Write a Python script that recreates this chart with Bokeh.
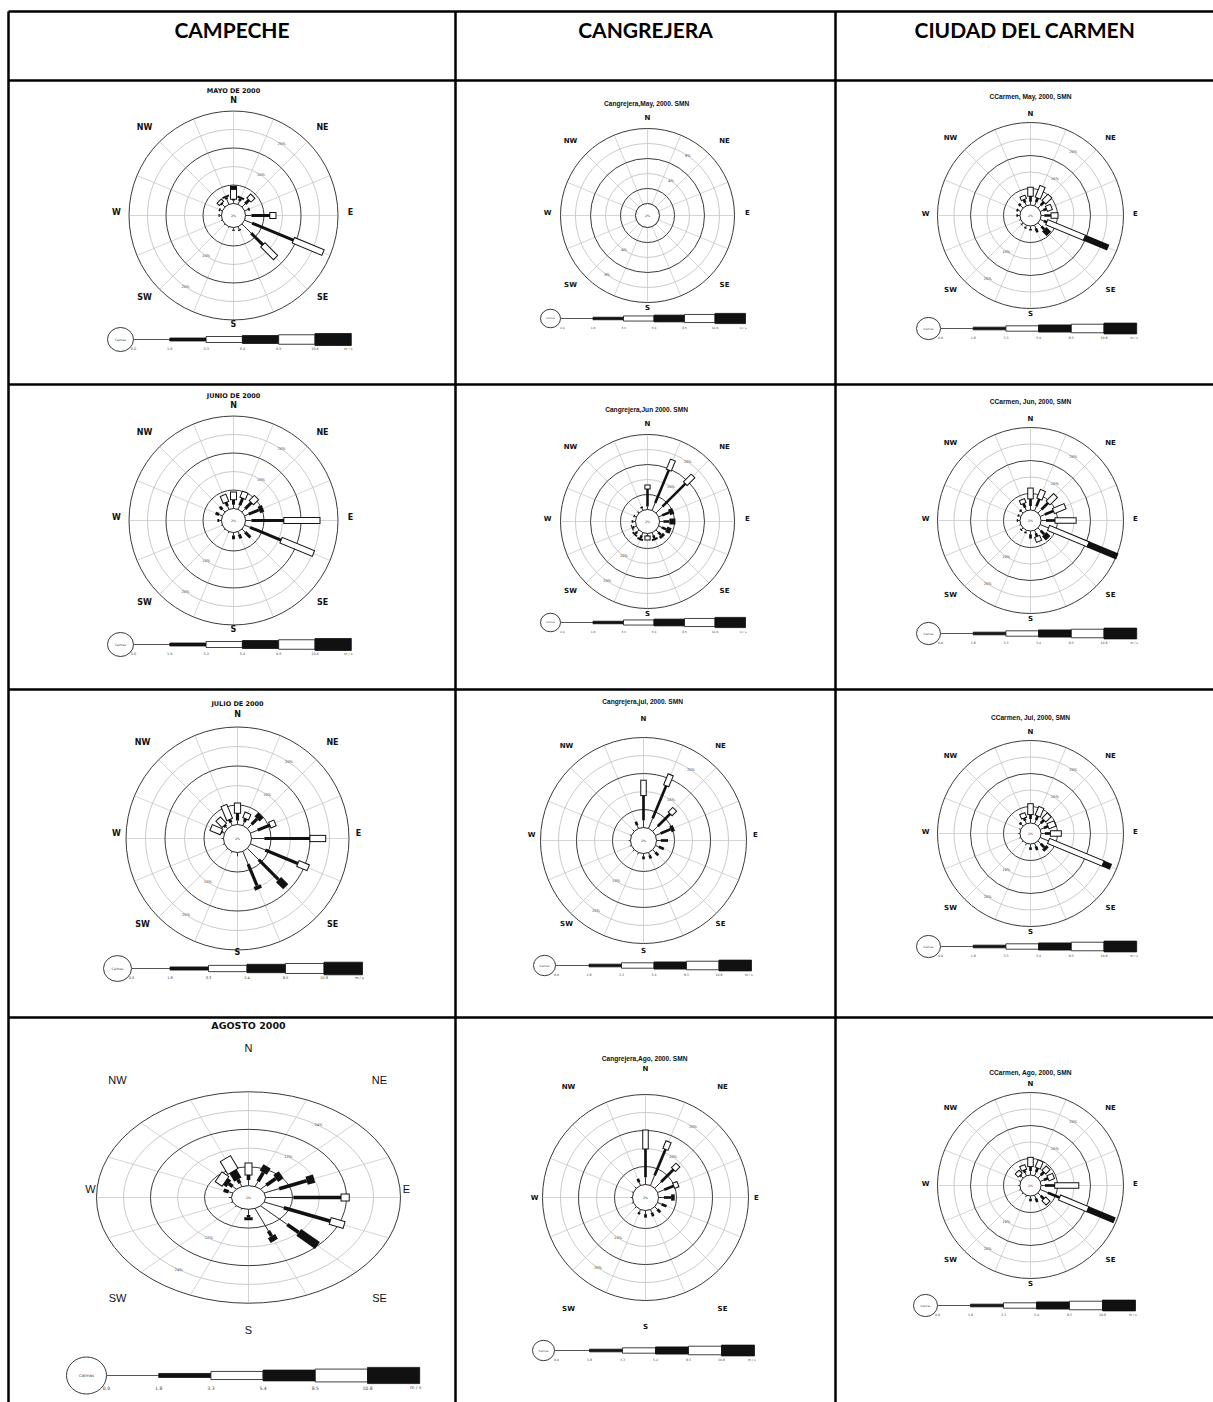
import numpy as np
from bokeh.plotting import figure
from bokeh.models import Range1d
from bokeh.embed import file_html
from bokeh.resources import INLINE
from bokeh.core.properties import value

# ---------------------------------------------------------------- data
STATIONS = ["CAMPECHE", "CANGREJERA", "CIUDAD DEL CARMEN"]
DIRECTIONS = ["N", "NNE", "NE", "ENE", "E", "ESE", "SE", "SSE",
              "S", "SSW", "SW", "WSW", "W", "WNW", "NW", "NNW"]
COMPASS = ["N", "NE", "E", "SE", "S", "SW", "W", "NW"]
SPEED_BREAKS = ["0.0", "1.8", "3.3", "5.4", "8.5", "10.8"]
SPEED_UNIT = "m / s"
CALM_LABEL = "Calmas"

TITLES = [
    "MAYO DE 2000", "Cangrejera,May, 2000.  SMN", "CCarmen, May, 2000, SMN",
    "JUNIO DE 2000", "Cangrejera,Jun 2000.  SMN", "CCarmen, Jun, 2000, SMN",
    "JULIO DE 2000", "Cangrejera,jul, 2000.  SMN", "CCarmen, Jul, 2000, SMN",
    "AGOSTO 2000", "Cangrejera,Ago, 2000.  SMN", "CCarmen, Ago, 2000, SMN",
]
# ring step (%) of each rose
RING_STEP = [5, 2, 5, 5, 5, 5, 5, 5, 5, 6, 5, 5]

# frequency (%) per direction (N, NNE, ... NNW) and speed class
# classes: 0-1.8, 1.8-3.3, 3.3-5.4, 5.4-8.5, 8.5-10.8, >10.8 m/s
CAMPECHE_MAY = [
    [0.8, 0.5, 2.4, 1.1], [1.0, 0.6, 0, 0.6], [1.2, 1.6, 1.2], [1.0, 0.5],
    [1.6, 5.1, 1.4], [2.2, 12.2, 8.4], [3.5, 4.6, 4.6], [0.8, 0.4],
    [0.6, 0.3], [0.3], [0.3], [0.4], [0.5, 0.3], [0.6, 0.4], [1.0, 0.5, 0.6], [1.5, 0.5, 0, 0.5],
]
CANGREJERA_MAY = [[0]] * 16
CCARMEN_MAY = [
    [1.0, 1.8, 2.4], [1.2, 1.5, 3.5], [1.2, 1.5, 2.3], [1.0, 1.2, 1.3],
    [1.0, 2.2, 1.8], [1.2, 1.1, 12.1, 7.9], [1.5, 1.2, 0, 2.0], [1.0, 1.3],
    [0.8, 0.6], [0.7, 0.4], [0.5, 0.3], [0.5], [0.6, 0.5], [0.8, 0.6], [1.0, 0.8], [1.0, 1.2, 0.8],
]
CAMPECHE_JUN = [
    [1.0, 1.5, 1.8], [1.2, 2.2, 1.5], [1.2, 2.5, 1.7], [1.2, 3.0, 0, 1.2],
    [1.6, 8.9, 9.5], [1.6, 9.2, 9.2], [1.2, 2.0], [0.8, 1.2],
    [0.8, 1.0], [0.4], [0.3], [0.3], [0.6, 0.5], [1.0, 1.0], [1.0, 1.0], [1.0, 1.2, 1.8],
]
CANGREJERA_JUN = [
    [1.0, 6.0, 1.0], [2.7, 12.0, 3.3], [3.0, 11.0, 3.3], [1.3, 2.5, 0, 1.5],
    [1.3, 2.0, 0, 2.0], [1.2, 1.6, 0, 1.5], [1.0, 1.3, 0, 1.0], [1.0, 1.0, 0, 0.7],
    [0.6, 0.4, 1.0], [1.0, 1.0, 0, 0.7], [0.9, 0.8, 0, 0.6], [0.8, 0.5, 0, 0.4],
    [0.7, 0.6], [0.6, 0.4], [0.5, 0.2], [0.8, 0.5],
]
CCARMEN_JUN = [
    [1.2, 2.3, 3.0], [1.5, 2.5, 2.5], [1.5, 3.0, 2.9], [1.5, 3.0, 3.5],
    [1.5, 2.9, 6.1], [2.9, 0, 12.7, 9.7], [1.2, 1.5, 0, 1.7], [1.0, 1.2, 1.3],
    [1.0, 1.3], [0.6, 0.4], [0.6, 0.4], [0.5], [0.6, 0.4], [0.6, 0.4], [0.8, 0.5], [1.0, 1.5, 1.0],
]
CAMPECHE_JUL = [
    [1.0, 2.0, 2.4], [1.0, 1.0, 1.3], [1.5, 2.0, 0, 1.4], [2.0, 3.5, 1.2],
    [3.3, 11.8, 3.8], [4.1, 9.2, 2.6], [4.1, 7.2, 0, 2.6], [3.5, 6.0, 0, 1.0],
    [1.0], [0.4], [0.4], [0.4], [0.5], [0.5, 0.5, 2.6], [0.6, 0.7, 2.0], [0.8, 1.0, 3.6],
]
CANGREJERA_JUL = [
    [2.0, 7.0, 4.0], [3.0, 10.0, 3.0], [2.0, 5.0, 1.5], [1.5, 3.0, 0, 1.0],
    [1.2, 2.0], [1.0, 1.5], [1.0, 1.2], [0.8, 1.0],
    [0.8, 0.8], [0.6], [0.6], [0.5], [0.5], [0.5], [0.6], [1.0, 1.0],
]
CCARMEN_JUL = [
    [1.2, 1.5, 3.0], [1.2, 1.5, 2.5], [1.2, 1.5, 2.0], [1.2, 1.5, 2.0],
    [1.2, 1.8, 3.0], [2.9, 0, 17.6, 2.7], [1.2, 1.5, 0, 1.0], [1.0, 1.2],
    [1.0, 0.8], [0.6], [0.5], [0.5], [0.5], [0.6], [0.8, 0.6], [1.0, 1.0, 1.2],
]
CAMPECHE_AGO = [
    [1.8, 1.8, 3.5], [1.8, 3.0, 0, 2.2], [1.8, 3.0, 0, 1.7], [3.6, 6.6, 0, 1.8],
    [6.2, 10.7, 1.6], [4.7, 11.3, 3.1], [8.4, 3.6, 0, 5.9], [7.8, 1.8, 0, 1.6],
    [1.8, 0.7, 0, 1.0], [0.4], [0.4], [0.4], [0.6], [1.0, 1.2], [1.2, 1.2, 0, 1.2, 1.9], [1.2, 1.2, 0, 3.0, 4.1],
]
CANGREJERA_AGO = [
    [2.0, 8.0, 5.0], [3.0, 8.0, 2.0], [2.5, 5.0, 1.5], [2.0, 3.0, 1.0],
    [1.5, 2.0, 0, 1.0], [1.2, 1.5], [1.0, 1.2], [1.0, 1.0],
    [1.0, 1.0], [0.8, 0.6], [0.6], [0.5], [0.5], [0.5], [0.6], [1.0, 1.0],
]
CCARMEN_AGO = [
    [1.2, 1.5, 2.5], [1.2, 1.5, 2.0], [1.2, 1.5, 1.5], [1.2, 1.5, 1.5],
    [1.2, 3.1, 7.0], [2.5, 4.0, 9.0, 8.9], [1.2, 1.5, 1.5], [1.0, 1.2],
    [0.8, 0.8], [0.6], [0.5], [0.5], [0.5], [0.6], [0.8, 0.6, 1.0], [1.0, 1.0, 1.2],
]
ROSES = [CAMPECHE_MAY, CANGREJERA_MAY, CCARMEN_MAY,
         CAMPECHE_JUN, CANGREJERA_JUN, CCARMEN_JUN,
         CAMPECHE_JUL, CANGREJERA_JUL, CCARMEN_JUL,
         CAMPECHE_AGO, CANGREJERA_AGO, CCARMEN_AGO]

# ---------------------------------------------------------------- layout / style
X0, X1, Y0, Y1 = 0, 1213, 0, 1402
COL_X = [8, 455, 835, 1214]
ROW_Y = [11, 80, 384, 689, 1017, 1403]
HEAD_Y = 29

CLASS_W = [1.0, 3.0, 5.0, 7.0, 9.0, 11.0]
CLASS_FILL = ["#333333", "#111111", "white", "#111111", "white", "#111111"]
LEG_H = [1.0, 3.0, 6.0, 8.0, 9.5, 12.0]

# per rose: centre, px per % (x, y), calm radius px, compass label box, title, legend
CAMP = dict(tfont="DejaVu Sans", tsize="6.5px", cfont="DejaVu Sans", csize="8px", cstyle="bold")
SMN = dict(tfont="Liberation Sans", tsize="6.6px", cfont="DejaVu Sans", csize="7px", cstyle="bold")
LAYOUT = [
    dict(c=(233, 215), k=(3.7, 3.7), r0=12, lab=(117, 112, 89, 85, -3), ty=90, leg=(120, 339, 13, 133, 36.3, 9, 1.0), ws=1.0, **CAMP),
    dict(c=(647, 215), k=(7.5, 7.5), r0=12, lab=(100, 95, 77, 72, -3), ty=103, leg=(550, 318, 10, 562, 30.5, 9, 0.85), ws=0.85, **SMN),
    dict(c=(1030, 215), k=(3.3, 3.3), r0=10.5, lab=(105, 100, 80, 76, -2), ty=96, leg=(928, 328, 12, 940, 32.7, 9, 0.9), ws=0.9, **SMN),
    dict(c=(233, 520), k=(3.7, 3.7), r0=12, lab=(117, 112, 89, 85, -3), ty=395, leg=(120, 644, 13, 133, 36.3, 9, 1.0), ws=1.0, **CAMP),
    dict(c=(647, 521), k=(3.0, 3.0), r0=12, lab=(100, 95, 77, 72, -3), ty=409, leg=(550, 622, 10, 562, 30.5, 9, 0.85), ws=0.85, **SMN),
    dict(c=(1030, 520), k=(3.3, 3.3), r0=10.5, lab=(105, 100, 80, 76, -2), ty=401, leg=(928, 633, 12, 940, 32.7, 9, 0.9), ws=0.9, **SMN),
    dict(c=(237, 838), k=(3.9, 3.9), r0=14, lab=(121, 119, 95, 91, -5), ty=703, leg=(117, 968, 14, 131, 38.5, 9, 1.05), ws=1.05, **CAMP),
    dict(c=(643, 840), k=(3.6, 3.6), r0=13, lab=(112, 116, 77, 89, -6), ty=701, leg=(544, 965, 11, 556, 32.5, 9, 0.9), ws=0.9, **SMN),
    dict(c=(1030, 833), k=(3.3, 3.3), r0=10.5, lab=(105, 100, 80, 76, -2), ty=717, leg=(928, 946, 12, 940, 32.7, 9, 0.9), ws=0.9, **SMN),
    dict(c=(248, 1197), k=(4.5, 3.13), r0=17, lab=(158, 141, 131, 109, -9), ty=1025, leg=(86, 1375, 20, 106, 52.2, 12, 1.35), ws=1.2,
         tfont="DejaVu Sans", tsize="9.5px", cfont="Liberation Sans", csize="11px", cstyle="normal"),
    dict(c=(645, 1197), k=(3.6, 3.6), r0=13, lab=(111, 129, 77, 111, 0), ty=1058, leg=(543, 1350, 11, 556, 33, 9, 0.9), ws=0.9, **SMN),
    dict(c=(1030, 1185), k=(3.3, 3.3), r0=10.5, lab=(105, 100, 80, 76, -2), ty=1072, leg=(925, 1305, 12, 937, 33, 9, 0.9), ws=0.9, **SMN),
]

W, H = X1 - X0, Y1 - Y0
p = figure(width=W, height=H, x_range=Range1d(X0, X1), y_range=Range1d(Y1, Y0),
           output_backend="svg", toolbar_location=None, min_border=0)
p.axis.visible = False
p.grid.visible = False
p.outline_line_color = None
p.background_fill_color = "white"

xr_all, yr_all = {}, {}


def draw_rose(i, L, rose, step):
    cx, cy = L["c"]
    kx, ky = L["k"]
    xn, yn = "rx%d" % i, "ry%d" % i
    xr_all[xn] = Range1d((X0 - cx) / kx, (X1 - cx) / kx)
    yr_all[yn] = Range1d((cy - Y1) / ky, (cy - Y0) / ky)
    kw = dict(x_range_name=xn, y_range_name=yn)
    c = L["r0"] / kx
    rings = [step * j for j in range(1, 6)]
    th = np.deg2rad(22.5 * np.arange(16))
    sn, cs = np.sin(th), np.cos(th)
    rmax = c + rings[-1]
    # spokes
    p.segment(x0=c * sn, y0=c * cs, x1=rmax * sn, y1=rmax * cs,
              line_color="#c9c9c9", line_width=0.8, **kw)
    # rings
    gray = [c + r for j, r in enumerate(rings) if j % 2 == 1]
    dark = [c + r for j, r in enumerate(rings) if j % 2 == 0]
    p.ellipse(x=[0] * len(gray), y=[0] * len(gray), width=[2 * r for r in gray], height=[2 * r for r in gray],
              fill_color=None, line_color="#c4c4c4", line_width=0.9, **kw)
    p.ellipse(x=[0] * len(dark), y=[0] * len(dark), width=[2 * r for r in dark], height=[2 * r for r in dark],
              fill_color=None, line_color="#3a3a3a", line_width=1.0, **kw)
    p.ellipse(x=[0], y=[0], width=[2 * c], height=[2 * c], fill_color="white", line_color="#222222",
              line_width=1.0, **kw)
    # ring labels
    lab_r = [c + rings[1], c + rings[3]]
    for ang in (34.0, 214.0):
        a = np.deg2rad(ang)
        p.text(x=[r * np.sin(a) for r in lab_r], y=[r * np.cos(a) for r in lab_r],
               text=["%d%%" % rings[1], "%d%%" % rings[3]], text_font_size="3.6px", text_color="#444444",
               text_align="center", text_baseline="middle", text_font=value("DejaVu Sans"), **kw)
    p.text(x=[0], y=[0], text=["2%"], text_font_size="3.2px", text_color="#444444",
           text_align="center", text_baseline="middle", text_font=value("DejaVu Sans"), **kw)
    # petals
    x0, y0, x1, y1, lw, col = [], [], [], [], [], []

    def add(a, b, d, w, colr):
        x0.append(a * sn[d]); y0.append(a * cs[d]); x1.append(b * sn[d]); y1.append(b * cs[d])
        lw.append(w); col.append(colr)

    for d, cls in enumerate(rose):
        r = c
        pxu = np.hypot(kx * sn[d], ky * cs[d])
        for j, v in enumerate(cls):
            if v <= 0:
                continue
            a, b = r, r + v
            w = CLASS_W[j] * L["ws"] if j > 0 else 1.0
            if CLASS_FILL[j] == "white":
                e = 1.0 / pxu
                add(a - e, b + e, d, w + 2.0, "#111111")
                add(a, b, d, w, "white")
            else:
                add(a, b, d, w, CLASS_FILL[j])
            r = b
    if x0:
        p.segment(x0=x0, y0=y0, x1=x1, y1=y1, line_width=lw, line_color=col, **kw)

    # compass labels (page coordinates)
    Lcx, Lcy, Ldx, Ldy, dy = L["lab"]
    lx = [0, Ldx, Lcx, Ldx, 0, -Ldx, -Lcx, -Ldx]
    ly = [-Lcy, -Ldy, 0, Ldy, Lcy, Ldy, 0, -Ldy]
    p.text(x=[cx + v for v in lx], y=[cy + dy + v for v in ly], text=COMPASS,
           text_font=value(L["cfont"]), text_font_size=L["csize"], text_font_style=L["cstyle"],
           text_align="center", text_baseline="middle", text_color="#111111")
    # title
    p.text(x=[cx], y=[L["ty"]], text=[TITLES[i]], text_font=value(L["tfont"]), text_font_size=L["tsize"],
           text_font_style="bold", text_align="center", text_baseline="middle", text_color="#111111")
    # speed legend
    lcx, lyy, lr, lx0, ls, lt, sc = L["leg"]
    p.ellipse(x=[lcx], y=[lyy], width=[2 * lr], height=[1.85 * lr], fill_color="white",
              line_color="#222222", line_width=0.9)
    p.text(x=[lcx], y=[lyy], text=[CALM_LABEL], text_font_size="%.1fpx" % (3.0 * sc),
           text_align="center", text_baseline="middle", text_color="#444444", text_font=value("DejaVu Sans"))
    p.segment(x0=[lcx + lr], y0=[lyy], x1=[lx0 + ls], y1=[lyy], line_color="#555555", line_width=1.0)
    nb = len(SPEED_BREAKS)
    xs = [lx0 + (j + 0.5) * ls for j in range(1, nb)]
    hs = [LEG_H[j] * sc for j in range(1, nb)]
    fills = [CLASS_FILL[j] for j in range(1, nb)]
    p.rect(x=xs, y=[lyy] * len(xs), width=ls, height=hs, fill_color=fills, line_color="#111111",
           line_width=0.8)
    p.text(x=[lx0 + j * ls for j in range(nb)] + [lx0 + nb * ls - 3 * sc], y=[lyy + lt] * (nb + 1),
           text=SPEED_BREAKS + [SPEED_UNIT], text_font_size="%.1fpx" % (3.4 * sc), text_color="#444444",
           text_align="center", text_baseline="middle", text_font=value("DejaVu Sans"))


for i, (L, rose) in enumerate(zip(LAYOUT, ROSES)):
    draw_rose(i, L, rose, RING_STEP[i])

p.extra_x_ranges = xr_all
p.extra_y_ranges = yr_all

# table grid
p.segment(x0=[COL_X[0]] * 5, y0=ROW_Y[:5], x1=[COL_X[-1]] * 5, y1=ROW_Y[:5], line_color="black", line_width=2.5)
p.segment(x0=COL_X[:3], y0=[ROW_Y[0]] * 3, x1=COL_X[:3], y1=[ROW_Y[-1]] * 3, line_color="black", line_width=2.5)
# header
p.text(x=[(COL_X[j] + COL_X[j + 1]) / 2 for j in range(3)], y=[HEAD_Y] * 3, text=STATIONS,
       text_font=value("Lato"), text_font_size="21px", text_font_style="bold",
       text_align="center", text_baseline="middle", text_color="black")

open("out.html", "w").write(file_html(p, INLINE))
